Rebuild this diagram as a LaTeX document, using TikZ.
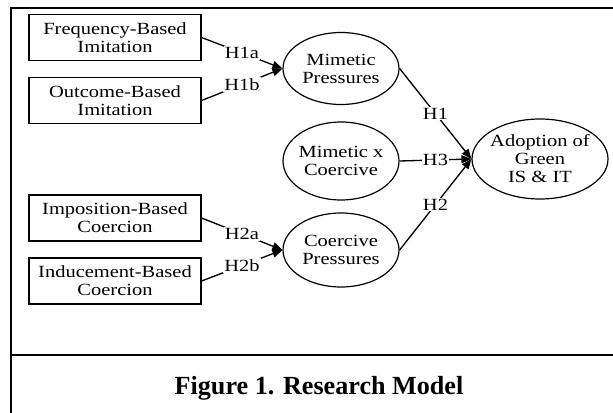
\documentclass[tikz,border=0pt]{standalone}
\usepackage{fontspec}
\setmainfont{Liberation Serif}
\newfontfamily\diagfont{Liberation Serif}[FakeStretch=1.2]
\usetikzlibrary{shapes.geometric,arrows.meta}

\begin{document}
\begin{tikzpicture}[x=0.75pt,y=-0.75pt,
  every node/.style={font=\diagfont\fontsize{12.8}{13.5}\selectfont, align=center},
  factor/.style={draw, line width=0.9pt, minimum width=129pt, minimum height=34.5pt, inner sep=0pt},
  construct/.style={draw, ellipse, line width=0.9pt, inner sep=0pt},
  link/.style={line width=1pt, -{Triangle[length=7.5pt,width=6pt]}},
  hyp/.style={fill=white, inner sep=0.8pt},
  rule/.style={line width=2pt}
]
\useasboundingbox (0,0) rectangle (613,413);

% frame and caption separator
\coordinate (fl) at (11,413);
\coordinate (ftl) at (11,8);
\coordinate (ftr) at (613,8);
\coordinate (sl) at (11,355);
\coordinate (sr) at (613,355);
\draw[rule] (fl) -- (ftl) -- (ftr);
\draw[rule] (sl) -- (sr);

% antecedent factors
\node[factor] (b1) at (115,37.5) {Frequency-Based\\Imitation};
\node[factor] (b2) at (115,100.5) {Outcome-Based\\Imitation};
\node[factor] (b3) at (115,218) {Imposition-Based\\Coercion};
\node[factor] (b4) at (115,281) {Inducement-Based\\Coercion};

% constructs
\node[construct, minimum width=87pt, minimum height=54pt] (mim) at (341,68.5) {};
\node (mimtext) at (mim) {Mimetic\\Pressures};
\node[construct, minimum width=87pt, minimum height=58.5pt] (mxc) at (341,161) {};
\node (mxctext) at (mxc) {Mimetic x\\Coercive};
\node[construct, minimum width=87pt, minimum height=55.5pt] (coe) at (341,250) {};
\node (coetext) at (coe) {Coercive\\Pressures};
\node[construct, minimum width=102pt, minimum height=60pt] (adopt) at (540,159) {};
\node (adopttext) at (adopt) {Adoption of\\Green\\IS \& IT};

% hypothesised paths
\draw[link] (b1.east) -- node[hyp] {H1a} (mim.west);
\draw[link] (b2.east) -- node[hyp] {H1b} (mim.west);
\draw[link] (b3.east) -- node[hyp] {H2a} (coe.west);
\draw[link] (b4.east) -- node[hyp] {H2b} (coe.west);
\draw[link] (mim.east) -- node[hyp] {H1} (adopt.west);
\draw[link] (mxc.east) -- node[hyp] {H3} (adopt.west);
\draw[link] (coe.east) -- node[hyp] {H2} (adopt.west);

% caption
\node[font=\rmfamily\bfseries\fontsize{19.6}{22}\selectfont] (caption) at (319,388) {Figure 1. Research Model};
\end{tikzpicture}
\end{document}
